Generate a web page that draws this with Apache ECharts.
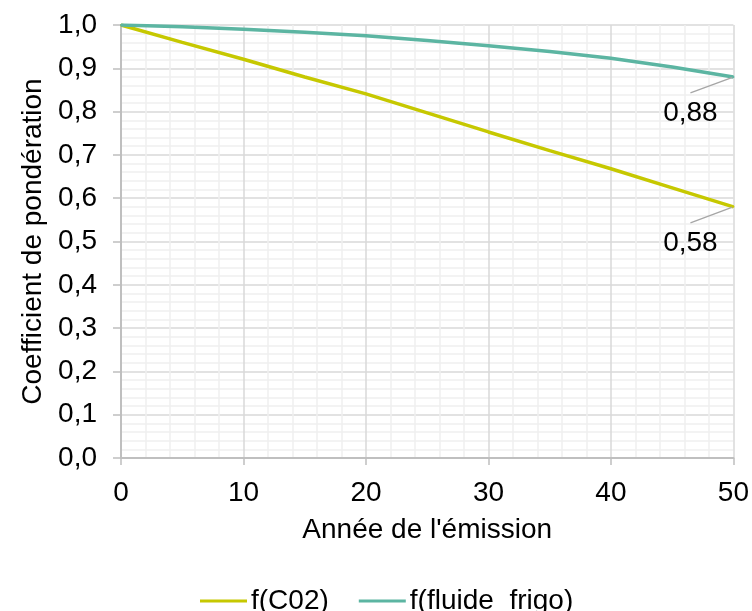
<!DOCTYPE html>
<html>
<head>
<meta charset="utf-8">
<script src="https://cdn.jsdelivr.net/npm/echarts@6/dist/echarts.min.js"></script>
<style>
html,body{margin:0;padding:0;background:#fff;}
#c{width:752px;height:611px;}
</style>
</head>
<body>
<div id="c"></div>
<script>
// Data
const years = [0, 5, 10, 15, 20, 25, 30, 35, 40, 45, 50];
const fCO2 = [1.0, 0.960, 0.921, 0.880, 0.841, 0.797, 0.753, 0.710, 0.668, 0.624, 0.58];
const fFluide = [1.0, 0.996, 0.990, 0.983, 0.975, 0.964, 0.952, 0.939, 0.923, 0.903, 0.88];
const seriesNames = ['f(C02)', 'f(fluide_frigo)'];
const xTitle = "Année de l'émission";
const yTitle = 'Coefficient de pondération';

const FONT = 'Liberation Sans, Arial, sans-serif';
const FS = 28;
const fmt = v => v.toFixed(2).replace('.', ',');

function build(vals) {
  return years.map((x, i) => {
    const item = { value: [x, vals[i]] };
    if (i === years.length - 1) {
      item.label = { show: true };
    }
    return item;
  });
}

const chart = echarts.init(document.getElementById('c'), null, { renderer: 'canvas' });
const labelCommon = {
  show: false,
  position: 'inside',
  color: '#000',
  fontFamily: FONT,
  fontSize: FS,
  lineHeight: 20,
  padding: [10, 60, 10, 60],
  formatter: p => fmt(p.value[1])
};
const labelLayout = { dx: -43, dy: 36 };
const labelLine = { show: true, length2: 0, lineStyle: { color: '#a6a6a6', width: 1.3 } };

chart.setOption({
  animation: false,
  backgroundColor: '#fff',
  textStyle: { fontFamily: FONT },
  grid: { left: 121, right: 18, top: 25, bottom: 153, containLabel: false },
  legend: {
    data: seriesNames,
    left: 195,
    top: 582,
    icon: 'rect',
    itemWidth: 47,
    itemHeight: 3,
    itemGap: 30,
    textStyle: { fontFamily: FONT, fontSize: FS, color: '#000', padding: [0, 0, 0, -1] }
  },
  xAxis: {
    type: 'value',
    min: 0, max: 50, interval: 10,
    name: xTitle,
    nameLocation: 'middle',
    nameGap: 58,
    nameTextStyle: { fontFamily: FONT, fontSize: FS, color: '#000' },
    axisLine: { show: true, lineStyle: { color: '#bfbfbf', width: 2 } },
    axisTick: { show: true, length: 7, lineStyle: { color: '#bfbfbf', width: 1.5 } },
    axisLabel: { margin: 21, fontFamily: FONT, fontSize: FS, color: '#000' },
    splitLine: { show: true, lineStyle: { color: '#d9d9d9', width: 1.5 } },
    minorTick: { show: false, splitNumber: 5 },
    minorSplitLine: { show: true, lineStyle: { color: '#efefef', width: 1.5 } }
  },
  yAxis: {
    type: 'value',
    min: 0, max: 1, interval: 0.1,
    name: yTitle,
    nameLocation: 'middle',
    nameGap: 70,
    nameRotate: 90,
    nameTextStyle: { fontFamily: FONT, fontSize: FS, color: '#000' },
    axisLine: { show: true, lineStyle: { color: '#bfbfbf', width: 2 } },
    axisTick: { show: true, length: 8, lineStyle: { color: '#bfbfbf', width: 1.5 } },
    axisLabel: { margin: 24, fontFamily: FONT, fontSize: FS, color: '#000',
      formatter: v => v.toFixed(1).replace('.', ',') },
    splitLine: { show: true, lineStyle: { color: '#d9d9d9', width: 1.5 } },
    minorTick: { show: false, splitNumber: 5 },
    minorSplitLine: { show: true, lineStyle: { color: '#efefef', width: 1.5 } }
  },
  series: [
    {
      name: seriesNames[0],
      type: 'line',
      data: build(fCO2),
      showSymbol: true,
      symbol: 'circle',
      symbolSize: 2,
      color: '#c6c800',
      lineStyle: { color: '#c6c800', width: 3.5 },
      label: labelCommon,
      labelLayout: labelLayout,
      labelLine: labelLine,
      z: 3
    },
    {
      name: seriesNames[1],
      type: 'line',
      data: build(fFluide),
      showSymbol: true,
      symbol: 'circle',
      symbolSize: 2,
      color: '#5cb5a2',
      lineStyle: { color: '#5cb5a2', width: 3.5 },
      label: labelCommon,
      labelLayout: labelLayout,
      labelLine: labelLine,
      z: 4
    }
  ]
});
</script>
</body>
</html>
